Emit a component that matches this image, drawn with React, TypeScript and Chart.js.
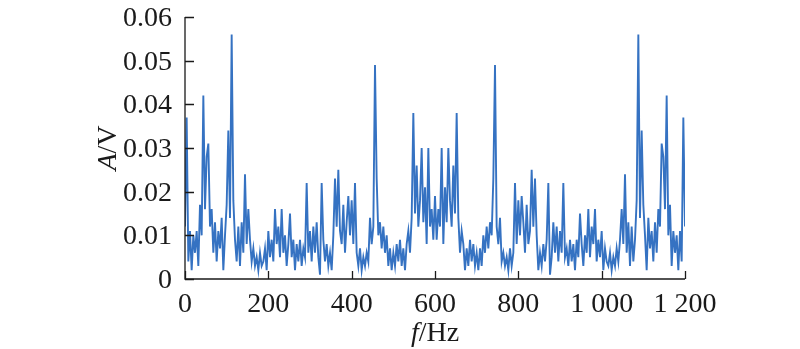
import { useEffect, useRef } from "react";
import { Chart, registerables } from "chart.js";

Chart.register(...registerables);

// Frequency grid step (Hz) of the amplitude spectrum samples
const FREQ_STEP_HZ = 4;

// Amplitude (V) at 0, 4, 8, ... 1200 Hz
const amplitudes = [
  0.012, 0.037, 0.004, 0.011, 0.002, 0.010, 0.006, 0.011, 0.003, 0.017,
  0.010, 0.042, 0.016, 0.028, 0.031, 0.012, 0.016, 0.006, 0.013, 0.004,
  0.011, 0.007, 0.014, 0.002, 0.010, 0.017, 0.034, 0.014, 0.056, 0.018,
  0.009, 0.004, 0.012, 0.003, 0.013, 0.006, 0.024, 0.008, 0.016, 0.009,
  0.004, 0.007, 0.003, 0.005, 0.002, 0.006, 0.003, 0.004, 0.007, 0.002,
  0.011, 0.005, 0.009, 0.004, 0.016, 0.008, 0.012, 0.005, 0.016, 0.006,
  0.010, 0.003, 0.008, 0.015, 0.005, 0.009, 0.002, 0.008, 0.004, 0.009,
  0.003, 0.007, 0.005, 0.022, 0.006, 0.011, 0.004, 0.012, 0.006, 0.013,
  0.005, 0.001, 0.022, 0.009, 0.004, 0.008, 0.003, 0.006, 0.002, 0.010,
  0.023, 0.012, 0.025, 0.011, 0.008, 0.017, 0.006, 0.013, 0.019, 0.010,
  0.018, 0.008, 0.022, 0.006, 0.003, 0.007, 0.002, 0.005, 0.003, 0.006,
  0.004, 0.014, 0.008, 0.012, 0.049, 0.023, 0.010, 0.013, 0.007, 0.012,
  0.006, 0.010, 0.003, 0.007, 0.002, 0.006, 0.003, 0.008, 0.004, 0.009,
  0.003, 0.007, 0.002, 0.008, 0.011, 0.006, 0.014, 0.038, 0.015, 0.026,
  0.012, 0.018, 0.030, 0.013, 0.021, 0.008, 0.030, 0.012, 0.016, 0.009,
  0.019,
  0.009, 0.016, 0.012, 0.030, 0.008, 0.021, 0.013, 0.030, 0.018, 0.012,
  0.026, 0.015, 0.038, 0.014, 0.006, 0.011, 0.008, 0.002, 0.007, 0.003,
  0.009, 0.004, 0.008, 0.003, 0.006, 0.002, 0.007, 0.003, 0.010, 0.006,
  0.012, 0.007, 0.013, 0.010, 0.023, 0.049, 0.012, 0.008, 0.014, 0.004,
  0.006, 0.003, 0.005, 0.002, 0.007, 0.003, 0.006, 0.022, 0.008, 0.018,
  0.010, 0.019, 0.013, 0.006, 0.017, 0.008, 0.011, 0.025, 0.012, 0.023,
  0.010, 0.002, 0.006, 0.003, 0.008, 0.004, 0.009, 0.022, 0.001, 0.005,
  0.013, 0.006, 0.012, 0.004, 0.011, 0.006, 0.022, 0.005, 0.007, 0.003,
  0.009, 0.004, 0.008, 0.002, 0.009, 0.005, 0.015, 0.008, 0.003, 0.010,
  0.006, 0.016, 0.005, 0.012, 0.008, 0.016, 0.004, 0.009, 0.005, 0.011,
  0.002, 0.007, 0.004, 0.003, 0.006, 0.002, 0.005, 0.003, 0.007, 0.004,
  0.009, 0.016, 0.008, 0.024, 0.006, 0.013, 0.003, 0.012, 0.004, 0.009,
  0.018, 0.056, 0.014, 0.034, 0.017, 0.010, 0.002, 0.014, 0.007, 0.011,
  0.004, 0.013, 0.006, 0.016, 0.012, 0.031, 0.028, 0.016, 0.042, 0.010,
  0.017, 0.003, 0.011, 0.006, 0.010, 0.002, 0.011, 0.004, 0.037, 0.012,
];

const yTicks = [0, 0.01, 0.02, 0.03, 0.04, 0.05, 0.06];
const yTickLabels = ["0", "0.01", "0.02", "0.03", "0.04", "0.05", "0.06"];
const xTicks = [0, 200, 400, 600, 800, 1000, 1200];
const xTickLabels = ["0", "200", "400", "600", "800", "1 000", "1 200"];

const FONT = '"Liberation Serif", "Times New Roman", serif';

const axesPlugin = {
  id: "paperAxes",
  afterDatasetsDraw(chart: any) {
    const ctx = chart.ctx as CanvasRenderingContext2D;
    const xs = chart.scales.x;
    const ys = chart.scales.y;
    const left = xs.getPixelForValue(xTicks[0]);
    const right = xs.getPixelForValue(xTicks[xTicks.length - 1]);
    const bottom = ys.getPixelForValue(yTicks[0]);
    const top = ys.getPixelForValue(yTicks[yTicks.length - 1]);
    ctx.save();
    ctx.strokeStyle = "#1a1a1a";
    ctx.lineWidth = 1.3;
    ctx.beginPath();
    ctx.moveTo(left, top);
    ctx.lineTo(left, bottom);
    ctx.lineTo(right, bottom);
    ctx.stroke();
    // inward ticks
    ctx.beginPath();
    yTicks.forEach((v) => {
      const y = Math.round(ys.getPixelForValue(v)) + 0.5;
      ctx.moveTo(left, y);
      ctx.lineTo(left + 9, y);
    });
    xTicks.forEach((v) => {
      const x = Math.round(xs.getPixelForValue(v)) + 0.5;
      ctx.moveTo(x, bottom);
      ctx.lineTo(x, bottom - 8);
    });
    ctx.stroke();

    ctx.fillStyle = "#1a1a1a";
    ctx.font = `28px ${FONT}`;
    ctx.textBaseline = "alphabetic";
    ctx.textAlign = "right";
    yTicks.forEach((v, i) => {
      ctx.fillText(yTickLabels[i], left - 13, ys.getPixelForValue(v) + 9);
    });
    ctx.textAlign = "center";
    xTicks.forEach((v, i) => {
      ctx.fillText(xTickLabels[i], xs.getPixelForValue(v), bottom + 33);
    });

    const drawParts = (parts: { t: string; italic: boolean }[], cx: number, cy: number) => {
      ctx.textAlign = "left";
      const widths = parts.map((p) => {
        ctx.font = `${p.italic ? "italic " : ""}28px ${FONT}`;
        return ctx.measureText(p.t).width;
      });
      const total = widths.reduce((a, b) => a + b, 0);
      let x = cx - total / 2;
      parts.forEach((p, i) => {
        ctx.font = `${p.italic ? "italic " : ""}28px ${FONT}`;
        ctx.fillText(p.t, x, cy);
        x += widths[i];
      });
    };
    // x title: f/Hz
    drawParts(
      [
        { t: "f", italic: true },
        { t: "/", italic: false },
        { t: "Hz", italic: false },
      ],
      xs.getPixelForValue(600),
      bottom + 62
    );
    // y title: A/V
    ctx.save();
    ctx.translate(left - 69, (top + bottom) / 2);
    ctx.rotate(-Math.PI / 2);
    drawParts(
      [
        { t: "A", italic: true },
        { t: "/", italic: false },
        { t: "V", italic: false },
      ],
      0,
      0
    );
    ctx.restore();
    ctx.restore();
  },
};

export default function App() {
  const ref = useRef<HTMLCanvasElement | null>(null);
  useEffect(() => {
    document.body.style.margin = "0";
    const canvas = ref.current;
    if (!canvas) return;
    const data = amplitudes.map((v, i) => ({ x: i * FREQ_STEP_HZ, y: v }));
    const chart = new Chart(canvas, {
      type: "line",
      data: {
        datasets: [
          {
            data,
            borderColor: "#3572c2",
            borderWidth: 1.9,
            pointRadius: 0,
            tension: 0,
            fill: false,
          },
        ],
      },
      options: {
        animation: false,
        responsive: false,
        devicePixelRatio: 1,
        layout: { padding: { left: 185, right: 115, top: 17, bottom: 70 } },
        plugins: { legend: { display: false }, tooltip: { enabled: false } },
        scales: {
          x: { type: "linear", min: 0, max: 1200, display: false },
          y: { type: "linear", min: 0, max: 0.06, display: false },
        },
      },
      plugins: [axesPlugin],
    });
    return () => chart.destroy();
  }, []);
  return <canvas ref={ref} width={800} height={349} style={{ display: "block" }} />;
}
